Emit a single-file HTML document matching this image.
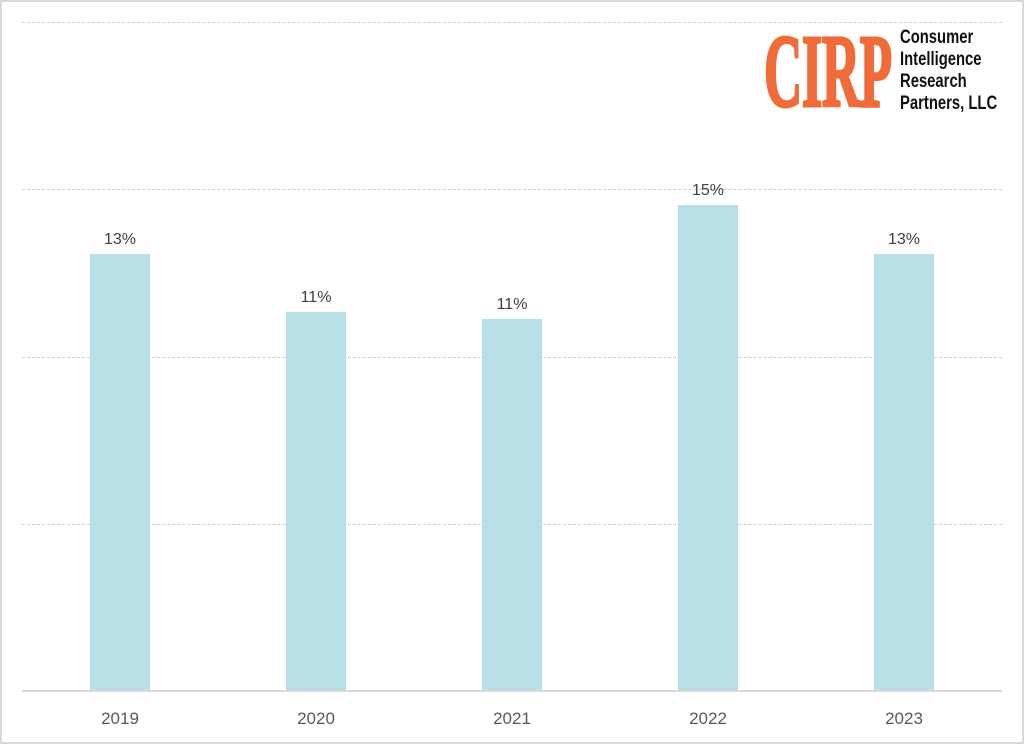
<!DOCTYPE html>
<html><head><style>
html,body{margin:0;padding:0;background:#fff}
#c{position:relative;width:1020px;height:740px;border:2px solid #d9d9d9;font-family:"Liberation Sans",sans-serif;overflow:hidden;background:#fff}
.g{position:absolute;left:20px;width:980px;border-top:1px dashed #d0d0d0;height:0}
.b{position:absolute;width:60px;background:#b7dfe5}
.v{position:absolute;width:100px;text-align:center;font-size:16px;color:#404040}
.y{position:absolute;width:100px;text-align:center;font-size:17px;color:#595959;top:707px}
</style></head><body><div id="c">
<div class="g" style="top:20px"></div>
<div class="g" style="top:187px"></div>
<div class="g" style="top:355px"></div>
<div class="g" style="top:522px"></div>
<div style="position:absolute;left:20px;width:980px;top:688px;border-top:2px solid #d9d9d9"></div>
<div style="position:absolute;left:760px;top:25px;width:240px;height:90px;background:#fff"></div>
<div style="position:absolute;left:762px;top:18px;font-family:'Liberation Serif',serif;font-weight:bold;font-size:104px;line-height:104px;color:#ef6c3a;-webkit-text-stroke:3px #ef6c3a;transform:scaleX(0.51);transform-origin:left top;letter-spacing:-1px">CIRP</div>
<div style="position:absolute;left:898px;top:25px;font-weight:bold;font-size:19px;line-height:22px;color:#111;transform:scaleX(0.78);transform-origin:left top;white-space:nowrap">Consumer<br>Intelligence<br>Research<br>Partners, LLC</div>
<div class="b" style="left:88px;top:252px;height:436px"></div>
<div class="b" style="left:284px;top:310px;height:378px"></div>
<div class="b" style="left:480px;top:317px;height:371px"></div>
<div class="b" style="left:676px;top:203px;height:485px"></div>
<div class="b" style="left:872px;top:252px;height:436px"></div>
<div class="v" style="left:68px;top:229px">13%</div>
<div class="v" style="left:264px;top:287px">11%</div>
<div class="v" style="left:460px;top:294px">11%</div>
<div class="v" style="left:656px;top:180px">15%</div>
<div class="v" style="left:852px;top:229px">13%</div>
<div class="y" style="left:68px">2019</div>
<div class="y" style="left:264px">2020</div>
<div class="y" style="left:460px">2021</div>
<div class="y" style="left:656px">2022</div>
<div class="y" style="left:852px">2023</div>
</div></body></html>
